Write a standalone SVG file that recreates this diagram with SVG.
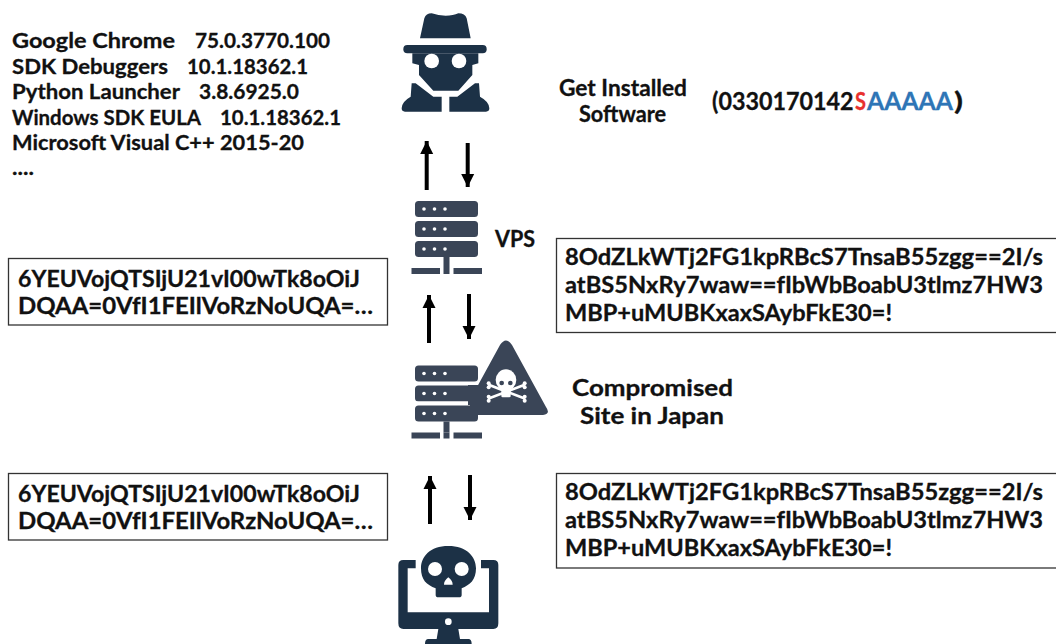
<svg xmlns="http://www.w3.org/2000/svg" width="1056" height="644" viewBox="0 0 1056 644">
<style>
text{font-family:"Lato","Liberation Sans",sans-serif;font-weight:700;fill:#111;stroke:#111;stroke-width:.3;white-space:pre}
.list{font-size:21px}
.box{font-size:22px}
.lab{font-size:22px}
.code{font-size:24px}
.bx{fill:#fff;stroke:#333;stroke-width:1.3}
.dark{fill:#1c3146}
.srv{fill:#3a4557}
.dot{fill:#fff}
.arr{stroke:#000;stroke-width:4;fill:none}
</style>
<defs>
<marker id="ah" markerUnits="userSpaceOnUse" markerWidth="14" markerHeight="14" refX="13" refY="7" orient="auto"><path d="M0 0.5L13 7L0 13.500Z" fill="#000"/></marker>
<g id="racks">
<rect class="srv" x="0" y="0" width="63" height="16" rx="3.500"/><rect class="srv" x="0" y="20" width="63" height="16" rx="3.500"/><rect class="srv" x="0" y="40" width="63" height="16" rx="3.500"/>
<circle class="dot" cx="9" cy="8" r="1.800"/><circle class="dot" cx="19.500" cy="8" r="1.800"/><circle class="dot" cx="30" cy="8" r="1.800"/>
<circle class="dot" cx="9" cy="28" r="1.800"/><circle class="dot" cx="19.500" cy="28" r="1.800"/><circle class="dot" cx="30" cy="28" r="1.800"/>
<circle class="dot" cx="9" cy="48" r="1.800"/><circle class="dot" cx="19.500" cy="48" r="1.800"/><circle class="dot" cx="30" cy="48" r="1.800"/>
<rect class="srv" x="28.500" y="56" width="6" height="11"/><rect class="srv" x="-3.500" y="67" width="28.500" height="6"/><rect class="srv" x="28.500" y="67" width="6" height="6"/><rect class="srv" x="38.500" y="67" width="28.500" height="6"/>
</g>
</defs>
<g id="connectors">
<path class="arr" marker-end="url(#ah)" d="M426.700 190V141"/>
<path class="arr" marker-end="url(#ah)" d="M467.700 143V187"/>
<path class="arr" marker-end="url(#ah)" d="M429 343V295"/>
<path class="arr" marker-end="url(#ah)" d="M469 294V339"/>
<path class="arr" marker-end="url(#ah)" d="M430 524V476"/>
<path class="arr" marker-end="url(#ah)" d="M470 475V520"/>
</g>
<g id="attacker" transform="translate(380,0) scale(.33333)">
<path class="dark" d="M120 115L133 55Q138 40 155 40Q175 47 197 47Q220 47 235 40Q255 40 260 55L272 115Z"/>
<rect class="dark" x="70" y="135" width="250" height="25" rx="12"/>
<path class="dark" d="M97 160H295V190L277 195V225L235 272H160L117 225V195L97 190Z"/>
<circle class="dot" cx="155" cy="183" r="22"/><circle class="dot" cx="237" cy="183" r="22"/>
<path class="dark" d="M95 250H107L160 290H185V335H75Q65 335 65 325Q65 305 92 290Z"/>
<path class="dark" d="M208 290H232L285 250H297L300 290Q328 305 328 325Q328 335 318 335H208Z"/>
</g>
<g id="software-list">
<text class="list" y="47.500"><tspan x="12" textLength="163" lengthAdjust="spacingAndGlyphs">Google Chrome</tspan><tspan x="195" textLength="135" lengthAdjust="spacingAndGlyphs">75.0.3770.100</tspan></text>
<text class="list" y="74"><tspan x="12" textLength="156" lengthAdjust="spacingAndGlyphs">SDK Debuggers</tspan><tspan x="187" textLength="121" lengthAdjust="spacingAndGlyphs">10.1.18362.1</tspan></text>
<text class="list" y="99"><tspan x="12" textLength="168" lengthAdjust="spacingAndGlyphs">Python Launcher</tspan><tspan x="199" textLength="100" lengthAdjust="spacingAndGlyphs">3.8.6925.0</tspan></text>
<text class="list" y="124.500"><tspan x="12" textLength="189" lengthAdjust="spacingAndGlyphs">Windows SDK EULA</tspan><tspan x="220" textLength="121" lengthAdjust="spacingAndGlyphs">10.1.18362.1</tspan></text>
<text class="list" y="149.500" x="12" textLength="292" lengthAdjust="spacingAndGlyphs">Microsoft Visual C++ 2015-20</text>
<text class="list" y="175" x="12" textLength="22" lengthAdjust="spacingAndGlyphs">....</text>
</g>
<g id="get-installed">
<text class="lab" x="559" y="96" textLength="128" lengthAdjust="spacingAndGlyphs">Get Installed</text>
<text class="lab" x="579" y="122" textLength="87" lengthAdjust="spacingAndGlyphs">Software</text>
</g>
<g id="code">
<text class="code" y="110"><tspan x="712" textLength="141.500" lengthAdjust="spacingAndGlyphs">(0330170142</tspan><tspan x="855" textLength="11" lengthAdjust="spacingAndGlyphs" style="fill:#e8302e;stroke:#e8302e">S</tspan><tspan x="867" textLength="86" lengthAdjust="spacingAndGlyphs" style="fill:#2e75b6;stroke:#2e75b6">AAAAA</tspan><tspan x="954" textLength="9" lengthAdjust="spacingAndGlyphs">)</tspan></text>
</g>
<g id="vps">
<use href="#racks" x="415" y="201"/>
<text class="lab" x="495" y="247" textLength="40" lengthAdjust="spacingAndGlyphs">VPS</text>
</g>
<g id="compromised">
<use href="#racks" x="415" y="365.500"/>
<path class="srv" d="M477 387L500 345Q506 336 512 345L546 407Q551 414 543 415H470V401H468L470 387Z"/>
<rect class="srv" x="468" y="385" width="12" height="20"/>
<path class="dot" d="M468 401.500H415V405H468Z"/>
<g transform="translate(380,290) scale(.33333)">
<path d="M328 285L432 325M328 325L432 285" stroke="#fff" stroke-width="8" stroke-linecap="round"/>
<g class="dot"><circle cx="326" cy="280" r="6"/><circle cx="326" cy="292" r="6"/><circle cx="434" cy="280" r="6"/><circle cx="434" cy="292" r="6"/><circle cx="326" cy="320" r="6"/><circle cx="326" cy="332" r="6"/><circle cx="434" cy="320" r="6"/><circle cx="434" cy="332" r="6"/></g>
<ellipse class="dot" cx="378" cy="270" rx="31" ry="32"/>
<rect class="dot" x="364" y="295" width="28" height="27" rx="4"/>
<circle class="srv" cx="365" cy="279" r="7"/><circle class="srv" cx="391" cy="279" r="7"/>
</g>
<text class="lab" x="572" y="396" textLength="161" lengthAdjust="spacingAndGlyphs">Compromised</text>
<text class="lab" x="580" y="424" textLength="144" lengthAdjust="spacingAndGlyphs">Site in Japan</text>
</g>
<g id="box-left-1">
<rect class="bx" x="8.500" y="258.500" width="379" height="66.500"/>
<text class="box" x="18" y="286.500" textLength="342" lengthAdjust="spacingAndGlyphs">6YEUVojQTSIjU21vI00wTk8oOiJ</text>
<text class="box" x="18" y="313.500" textLength="355" lengthAdjust="spacingAndGlyphs">DQAA=0VfI1FEIlVoRzNoUQA=…</text>
</g>
<g id="box-right-1">
<rect class="bx" x="556.500" y="238.500" width="502" height="94"/>
<text class="box" x="565" y="265" textLength="478" lengthAdjust="spacingAndGlyphs">8OdZLkWTj2FG1kpRBcS7TnsaB55zgg==2I/s</text>
<text class="box" x="565" y="293" textLength="478" lengthAdjust="spacingAndGlyphs">atBS5NxRy7waw==fIbWbBoabU3tlmz7HW3</text>
<text class="box" x="565" y="321" textLength="327" lengthAdjust="spacingAndGlyphs">MBP+uMUBKxaxSAybFkE30=!</text>
</g>
<g id="box-left-2">
<rect class="bx" x="8.500" y="473.500" width="379" height="66.500"/>
<text class="box" x="18" y="501.500" textLength="342" lengthAdjust="spacingAndGlyphs">6YEUVojQTSIjU21vI00wTk8oOiJ</text>
<text class="box" x="18" y="529" textLength="355" lengthAdjust="spacingAndGlyphs">DQAA=0VfI1FEIlVoRzNoUQA=…</text>
</g>
<g id="box-right-2">
<rect class="bx" x="556.500" y="473.500" width="502" height="94.500"/>
<text class="box" x="565" y="500" textLength="478" lengthAdjust="spacingAndGlyphs">8OdZLkWTj2FG1kpRBcS7TnsaB55zgg==2I/s</text>
<text class="box" x="565" y="528" textLength="478" lengthAdjust="spacingAndGlyphs">atBS5NxRy7waw==fIbWbBoabU3tlmz7HW3</text>
<text class="box" x="565" y="556" textLength="327" lengthAdjust="spacingAndGlyphs">MBP+uMUBKxaxSAybFkE30=!</text>
</g>
<g id="victim" transform="translate(380,290) scale(.33333)">
<path class="dark" d="M107 810H70Q55 810 55 825V1000Q55 1017 70 1017H340Q355 1017 355 1000V825Q355 810 340 810H303V835H327V967H83V835H107Z"/>
<path class="dark" d="M175 1017H235L240 1047H265Q275 1047 275 1062H135Q135 1047 145 1047H170Z"/>
<circle class="dot" cx="205" cy="995" r="10"/>
<path class="dark" d="M205 768C150 768 123 800 123 835C123 870 140 885 167 895V915Q167 922 175 922H237Q245 922 245 915V895C270 885 288 870 288 835C288 800 260 768 205 768Z"/>
<circle class="dot" cx="165" cy="837" r="21"/><circle class="dot" cx="245" cy="837" r="21"/>
<path class="dot" d="M205 862Q192 872 192 884H218Q218 872 205 862Z"/>
</g>
</svg>
